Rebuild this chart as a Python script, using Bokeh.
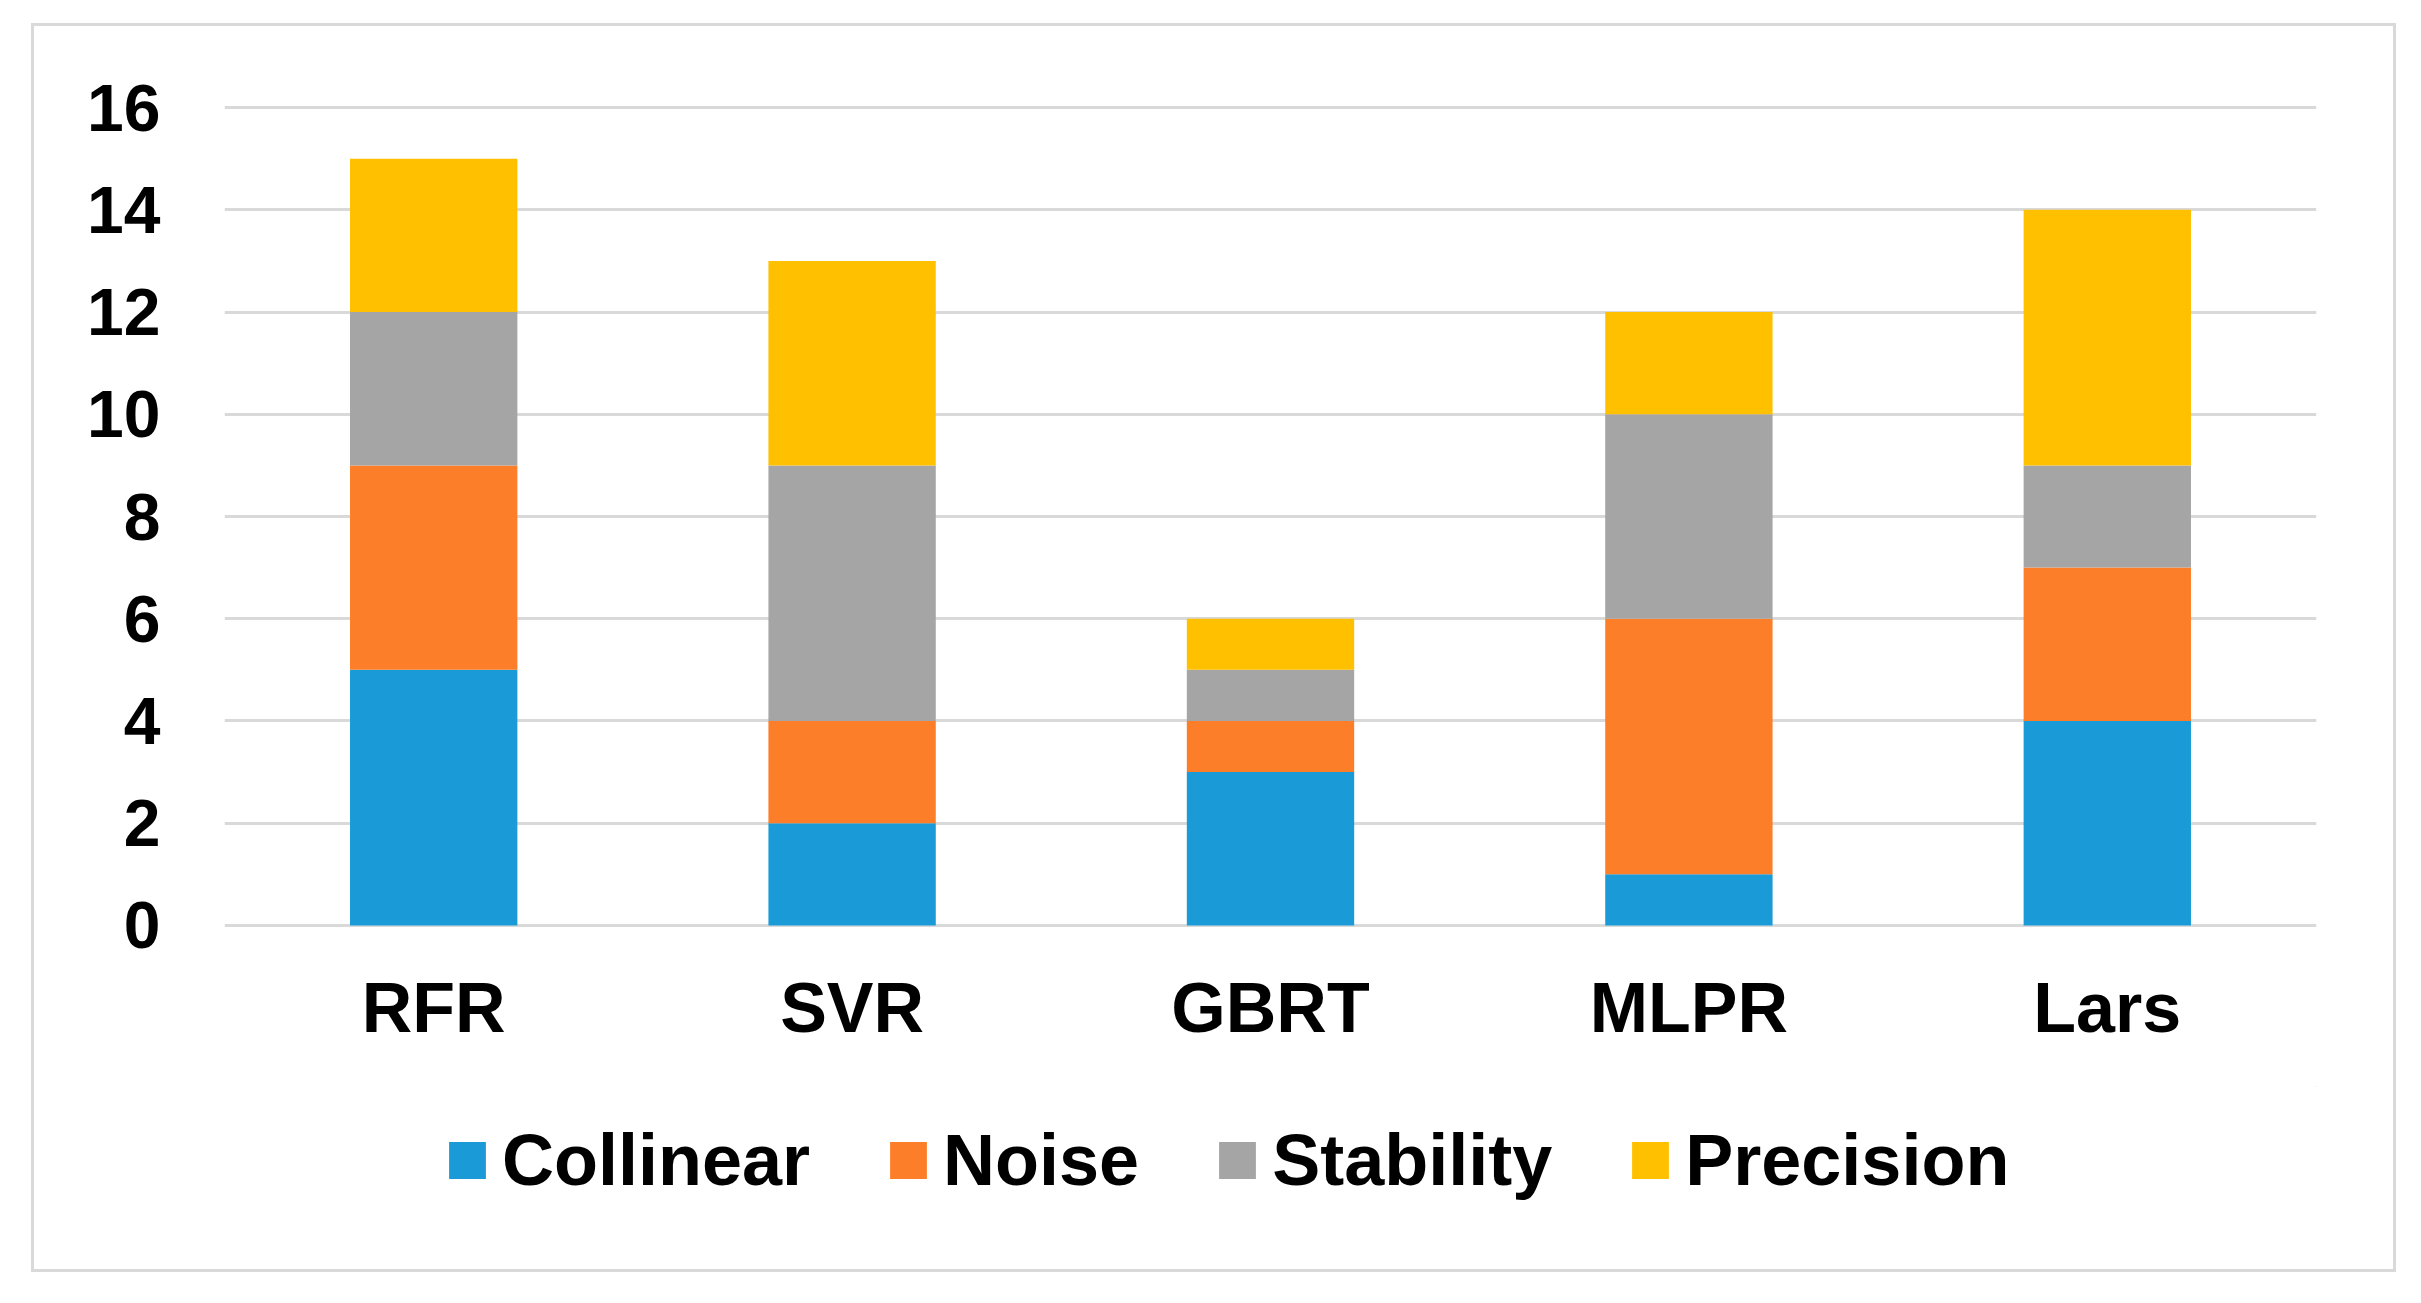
from bokeh.plotting import figure
from bokeh.layouts import column
from bokeh.models import ColumnDataSource, FactorRange, Range1d, FixedTicker, Legend, LegendItem
from bokeh.embed import file_html
from bokeh.resources import INLINE

categories = ["RFR", "SVR", "GBRT", "MLPR", "Lars"]
collinear = [5, 2, 3, 1, 4]
noise = [4, 2, 1, 5, 3]
stability = [3, 5, 1, 4, 2]
precision = [3, 4, 1, 2, 5]
series_names = ["Collinear", "Noise", "Stability", "Precision"]
colors = ["#1A9BD7", "#FD7E28", "#A5A5A5", "#FFC000"]
y_ticks = [0, 2, 4, 6, 8, 10, 12, 14, 16]

source = ColumnDataSource(data=dict(
    cat=categories,
    Collinear=collinear,
    Noise=noise,
    Stability=stability,
    Precision=precision,
))

FONT = "Liberation Sans"
W = 2359
H_MAIN = 1060
H_LEG = 183

p = figure(
    x_range=FactorRange(*categories, range_padding=0),
    y_range=Range1d(-0.1, 16.1),
    width=W, height=H_MAIN,
    output_backend="svg", toolbar_location=None,
    min_border_left=190, min_border_right=77,
    min_border_top=76, min_border_bottom=156,
)
p.outline_line_color = None
p.background_fill_color = "white"
p.border_fill_color = "white"

renderers = p.vbar_stack(series_names, x="cat", width=0.4, color=colors,
                         line_color=None, source=source)

# grid
p.xgrid.grid_line_color = None
p.ygrid.grid_line_color = "#D9D9D9"
p.ygrid.grid_line_width = 3
p.ygrid.ticker = FixedTicker(ticks=y_ticks)
p.ygrid.level = "underlay"

# y axis
p.yaxis.ticker = FixedTicker(ticks=y_ticks)
p.yaxis.axis_line_color = None
p.yaxis.major_tick_line_color = None
p.yaxis.minor_tick_line_color = None
p.yaxis.major_tick_out = 0
p.yaxis.major_tick_in = 0
p.yaxis.major_label_text_font = FONT
p.yaxis.major_label_text_font_style = "bold"
p.yaxis.major_label_text_font_size = "66px"
p.yaxis.major_label_text_color = "black"
p.yaxis.major_label_standoff = 64

# x axis
p.xaxis.axis_line_color = None
p.xaxis.major_tick_line_color = None
p.xaxis.minor_tick_line_color = None
p.xaxis.major_tick_out = 0
p.xaxis.major_tick_in = 0
p.xaxis.major_label_text_font = FONT
p.xaxis.major_label_text_font_style = "bold"
p.xaxis.major_label_text_font_size = "70px"
p.xaxis.major_label_text_color = "black"
p.xaxis.major_label_standoff = 38

# legend strip (separate figure below the chart; borders align with the chart)
lg = figure(
    width=W, height=H_LEG, output_backend="svg", toolbar_location=None,
    x_range=Range1d(0, 1), y_range=Range1d(0, 1),
    min_border_left=190, min_border_right=77,
    min_border_top=0, min_border_bottom=35,
)
lg.axis.visible = False
lg.grid.visible = False
lg.outline_line_color = None
lg.background_fill_color = "white"
lg.border_fill_color = "white"

# legend-only renderers: their single bar lies outside the visible range
leg_renderers = [lg.vbar(x=[10], bottom=[10], top=[11], width=0.4, color=c, line_color=None)
                 for c in colors]
items = [LegendItem(label=n, renderers=[r]) for n, r in zip(series_names, leg_renderers)]
legend = Legend(
    items=items, orientation="horizontal", location="left",
    label_text_font=FONT, label_text_font_style="bold",
    label_text_font_size="72px", label_text_color="black",
    glyph_width=46, glyph_height=46, label_standoff=12, spacing=75,
    border_line_color=None, background_fill_alpha=0,
    margin=220, padding=0,
)
lg.add_layout(legend, "center")

layout = column(p, lg, spacing=0, margin=(26, 0, 0, 34),
                styles={"outline": "3px solid #D9D9D9", "background": "white"})

open("out.html", "w").write(file_html(layout, INLINE))
